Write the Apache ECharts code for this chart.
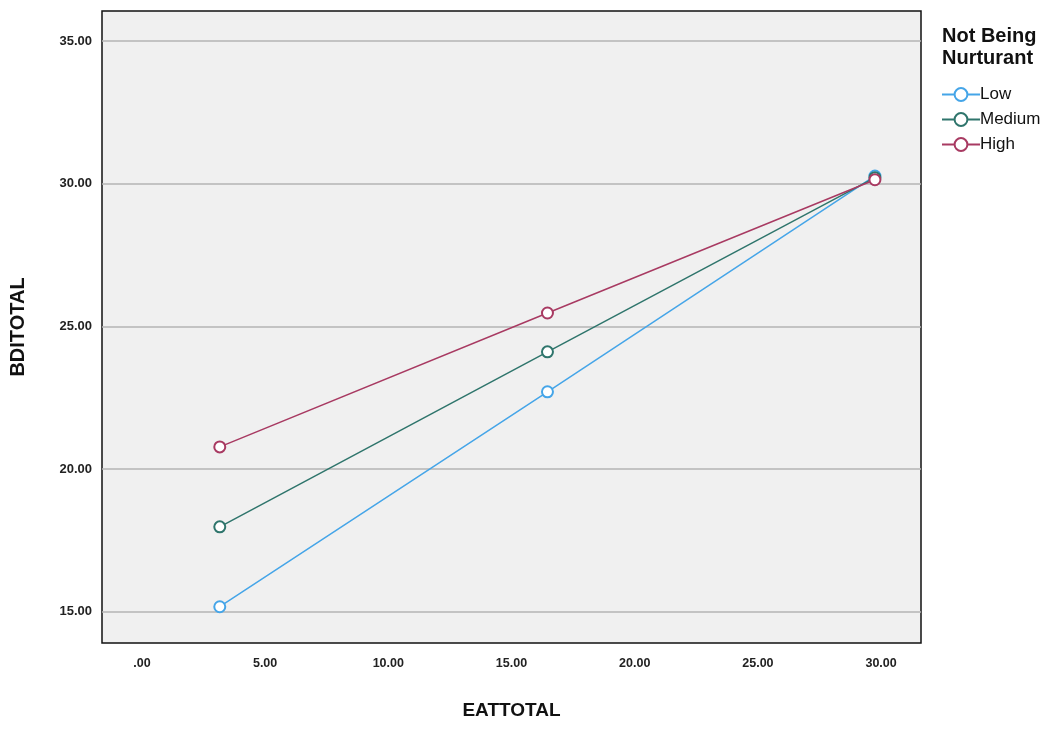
<!DOCTYPE html>
<html><head><meta charset="utf-8">
<script src="https://cdn.jsdelivr.net/npm/echarts@6/dist/echarts.min.js"></script>
<style>html,body{margin:0;padding:0;background:#fff}#c{width:1062px;height:729px}</style>
</head><body><div id="c"></div>
<script>
const xValues = [3.16, 16.46, 29.75];
const lowValues = [15.18, 22.71, 30.27];
const mediumValues = [17.98, 24.11, 30.21];
const highValues = [20.78, 25.47, 30.14];
const seriesNames = ['Low', 'Medium', 'High'];
const xTicks = [0, 5, 10, 15, 20, 25, 30];
const yTicks = [15, 20, 25, 30, 35];
const colors = ['#45a5e8', '#2f756c', '#a83a62'];

const fmt = v => { const s = v.toFixed(2); return v === 0 ? '.00' : s; };
const chart = echarts.init(document.getElementById('c'));
const mk = (name, vals, color) => ({
  name, type: 'line', data: xValues.map((x, i) => [x, vals[i]]),
  symbol: 'emptyCircle', symbolSize: 11, color,
  lineStyle: { width: 1.5, color }, itemStyle: { color, borderWidth: 1.5 },
  emphasis: { disabled: true }
});
chart.setOption({
  animation: false,
  backgroundColor: '#fff',
  title: { text: 'Not Being\nNurturant', left: 937, top: 20,
    textStyle: { fontFamily: 'Liberation Sans', fontSize: 20, fontWeight: 'bold', color: '#111', lineHeight: 22, align: 'center' } },
  legend: { orient: 'vertical', left: 936, top: 81, itemWidth: 38, itemHeight: 16, itemGap: 8,
    data: seriesNames,
    itemStyle: { borderWidth: 2 }, lineStyle: { width: 2 },
    textStyle: { fontFamily: 'Liberation Sans', fontSize: 17, color: '#111', padding: [0, 0, 0, -5] } },
  grid: { left: 101, right: 141, top: 11, bottom: 86, show: true, backgroundColor: '#f0f0f0', borderColor: '#111', borderWidth: 1.5 },
  xAxis: { type: 'value', min: -1.62, max: 31.62,
    name: 'EATTOTAL', nameLocation: 'middle', nameGap: 58,
    nameTextStyle: { fontFamily: 'Liberation Sans', fontSize: 19, fontWeight: 'bold', color: '#111' },
    axisLine: { show: false }, axisTick: { show: false, customValues: xTicks },
    splitLine: { show: false },
    axisLabel: { customValues: xTicks, formatter: fmt, margin: 14,
      fontFamily: 'Liberation Sans', fontSize: 12.5, fontWeight: 'bold', color: '#222' } },
  yAxis: { type: 'value', min: 13.91, max: 36.05,
    name: 'BDITOTAL', nameLocation: 'middle', nameGap: 74, nameRotate: 90,
    nameTextStyle: { fontFamily: 'Liberation Sans', fontSize: 20, fontWeight: 'bold', color: '#111' },
    axisLine: { show: false },
    axisTick: { show: false, customValues: yTicks },
    splitLine: { show: true, lineStyle: { color: '#b4b4b4', width: 1.5 } },
    axisLabel: { customValues: yTicks, formatter: fmt, margin: 10,
      fontFamily: 'Liberation Sans', fontSize: 13, fontWeight: 'bold', color: '#222' } },
  series: [mk('Low', lowValues, colors[0]), mk('Medium', mediumValues, colors[1]), mk('High', highValues, colors[2])]
});
</script></body></html>
